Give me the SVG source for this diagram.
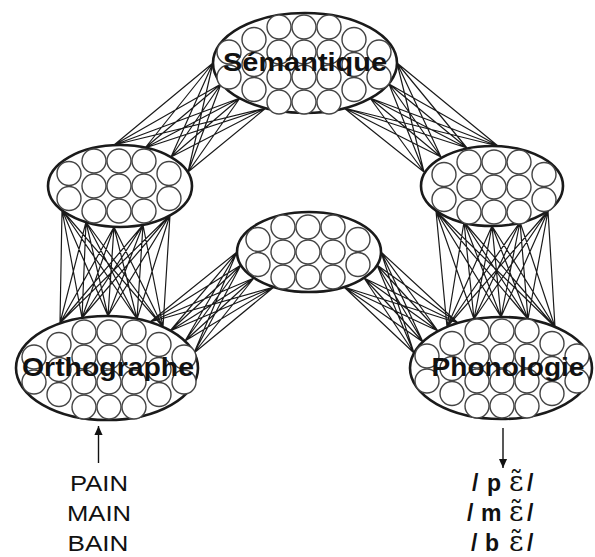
<svg xmlns="http://www.w3.org/2000/svg" xmlns:xlink="http://www.w3.org/1999/xlink" width="595" height="557" viewBox="0 0 595 557">
<style>
.conn{fill:none;stroke:#1a1a1a;stroke-width:1.2}
.shell{fill:#fff;stroke:#1a1a1a;stroke-width:2.6}
.cell{fill:#fff;stroke:#444;stroke-width:1.4}
.lbl{font-family:"Liberation Sans",Arial,sans-serif;font-weight:bold;font-size:26px;fill:#111;text-anchor:middle}
.word{font-family:"Liberation Sans",Arial,sans-serif;font-size:22px;fill:#111;text-anchor:middle}
.ph{font-family:"Liberation Sans",Arial,sans-serif;font-weight:bold;font-size:23px;fill:#111}
.eps{font-family:"DejaVu Serif",serif;font-weight:normal;font-size:28px}
.arrow{stroke:#111;stroke-width:1.4;fill:none}
</style>
<defs>
<marker id="arr" viewBox="0 0 10 10" refX="10" refY="5" markerWidth="11" markerHeight="9" markerUnits="userSpaceOnUse" orient="auto"><path d="M0,0.5 L10,5 L0,9.5 z" fill="#111"/></marker>
<g id="small" class="cell">
<circle cx="-50" cy="-12.5" r="12"/><circle cx="-50" cy="12.5" r="12"/>
<circle cx="-25" cy="-25" r="12"/><circle cx="-25" cy="0" r="12"/><circle cx="-25" cy="25" r="12"/>
<circle cx="0" cy="-25" r="12"/><circle cx="0" cy="0" r="12"/><circle cx="0" cy="25" r="12"/>
<circle cx="25" cy="-25" r="12"/><circle cx="25" cy="0" r="12"/><circle cx="25" cy="25" r="12"/>
<circle cx="50" cy="-12.5" r="12"/><circle cx="50" cy="12.5" r="12"/>
</g>
<g id="large" class="cell">
<circle cx="-75" cy="-12.5" r="12"/><circle cx="-75" cy="12.5" r="12"/>
<circle cx="-50" cy="-25" r="12"/><circle cx="-50" cy="0" r="12"/><circle cx="-50" cy="25" r="12"/>
<circle cx="-25" cy="-37.5" r="12"/><circle cx="-25" cy="-12.5" r="12"/><circle cx="-25" cy="12.5" r="12"/><circle cx="-25" cy="37.5" r="12"/>
<circle cx="0" cy="-37.5" r="12"/><circle cx="0" cy="-12.5" r="12"/><circle cx="0" cy="12.5" r="12"/><circle cx="0" cy="37.5" r="12"/>
<circle cx="25" cy="-37.5" r="12"/><circle cx="25" cy="-12.5" r="12"/><circle cx="25" cy="12.5" r="12"/><circle cx="25" cy="37.5" r="12"/>
<circle cx="50" cy="-25" r="12"/><circle cx="50" cy="0" r="12"/><circle cx="50" cy="25" r="12"/>
<circle cx="75" cy="-12.5" r="12"/><circle cx="75" cy="12.5" r="12"/>
</g>
</defs>
<rect width="595" height="557" fill="#fff"/>
<g id="connectors" class="conn">
<path d="M213 63L114 145M213 63L145 148M213 63L171 157M213 63L188 172M221 84L114 145M221 84L145 148M221 84L171 157M221 84L188 172M240 98L114 145M240 98L145 148M240 98L171 157M240 98L188 172M266 108L114 145M266 108L145 148M266 108L171 157M266 108L188 172"/>
<path d="M397 63L498 146M397 63L467 148M397 63L441 157M397 63L424 172M389 84L498 146M389 84L467 148M389 84L441 157M389 84L424 172M370 98L498 146M370 98L467 148M370 98L441 157M370 98L424 172M344 108L498 146M344 108L467 148M344 108L441 157M344 108L424 172"/>
<path d="M62 210L60 323M62 210L82 318M62 210L108 316M62 210L137 319M62 210L163 327M86 222L60 323M86 222L82 318M86 222L108 316M86 222L137 319M86 222L163 327M114 227L60 323M114 227L82 318M114 227L108 316M114 227L137 319M114 227L163 327M143 225L60 323M143 225L82 318M143 225L108 316M143 225L137 319M143 225L163 327M170 215L60 323M170 215L82 318M170 215L108 316M170 215L137 319M170 215L163 327"/>
<path d="M436 211L447 327M436 211L474 319M436 211L501 317M436 211L528 319M436 211L555 327M464 222L447 327M464 222L474 319M464 222L501 317M464 222L528 319M464 222L555 327M492 226L447 327M492 226L474 319M492 226L501 317M492 226L528 319M492 226L555 327M520 222L447 327M520 222L474 319M520 222L501 317M520 222L528 319M520 222L555 327M548 211L447 327M548 211L474 319M548 211L501 317M548 211L528 319M548 211L555 327"/>
<path d="M150 322L237 252M150 322L241 265M150 322L254 278M150 322L274 287M170 331L237 252M170 331L241 265M170 331L254 278M170 331L274 287M185 341L237 252M185 341L241 265M185 341L254 278M185 341L274 287M194 353L237 252M194 353L241 265M194 353L254 278M194 353L274 287"/>
<path d="M458 323L381 252M458 323L377 265M458 323L364 278M458 323L344 287M438 331L381 252M438 331L377 265M438 331L364 278M438 331L344 287M423 342L381 252M423 342L377 265M423 342L364 278M423 342L344 287M414 353L381 252M414 353L377 265M414 353L364 278M414 353L344 287"/>
<line class="arrow" x1="98.5" y1="463" x2="98.5" y2="426" marker-end="url(#arr)"/>
<line class="arrow" x1="503" y1="428" x2="503" y2="468" marker-end="url(#arr)"/>
</g>
<g id="semantique">
<ellipse class="shell" cx="305" cy="63" rx="92" ry="50"/>
<use xlink:href="#large" href="#large" transform="translate(304 64.5)"/>
<text class="lbl" x="305" y="71" textLength="164" lengthAdjust="spacingAndGlyphs">Sémantique</text>
</g>
<g id="orth-hidden">
<ellipse class="shell" cx="120" cy="186" rx="72" ry="41"/>
<use xlink:href="#small" href="#small" transform="translate(119 186)"/>
</g>
<g id="hidden-center">
<ellipse class="shell" cx="309" cy="252" rx="72" ry="40"/>
<use xlink:href="#small" href="#small" transform="translate(308 252)"/>
</g>
<g id="phon-hidden">
<ellipse class="shell" cx="492" cy="186" rx="71" ry="40"/>
<use xlink:href="#small" href="#small" transform="translate(494 187)"/>
</g>
<g id="orthographe">
<ellipse class="shell" cx="107" cy="368" rx="91" ry="52"/>
<use xlink:href="#large" href="#large" transform="translate(109 369.5)"/>
<text class="lbl" x="108" y="376" textLength="172" lengthAdjust="spacingAndGlyphs">Orthographe</text>
</g>
<g id="phonologie">
<ellipse class="shell" cx="501" cy="368" rx="91" ry="51"/>
<use xlink:href="#large" href="#large" transform="translate(502 368.5)"/>
<text class="lbl" x="508" y="376" textLength="153" lengthAdjust="spacingAndGlyphs">Phonologie</text>
</g>
<g id="words">
<text class="word" x="99" y="491" textLength="58" lengthAdjust="spacingAndGlyphs">PAIN</text>
<text class="word" x="99" y="521" textLength="64" lengthAdjust="spacingAndGlyphs">MAIN</text>
<text class="word" x="98" y="551" textLength="61" lengthAdjust="spacingAndGlyphs">BAIN</text>
</g>
<g id="phonemes">
<text class="ph" y="491"><tspan x="472">/</tspan><tspan x="487">p</tspan><tspan class="eps" x="509">ɛ̃</tspan><tspan x="527">/</tspan></text>
<text class="ph" y="521"><tspan x="467">/</tspan><tspan x="481">m</tspan><tspan class="eps" x="509">ɛ̃</tspan><tspan x="527">/</tspan></text>
<text class="ph" y="551"><tspan x="471">/</tspan><tspan x="485">b</tspan><tspan class="eps" x="509">ɛ̃</tspan><tspan x="527">/</tspan></text>
</g>
</svg>
